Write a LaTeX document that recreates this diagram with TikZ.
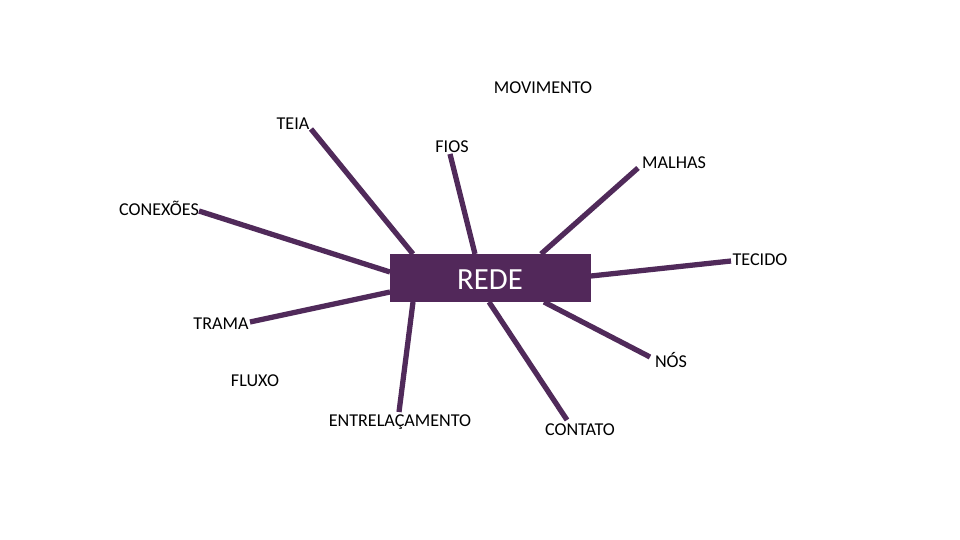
\documentclass[tikz,border=0pt]{standalone}
\usepackage{fontspec}
\setmainfont{Carlito}
\definecolor{rede}{RGB}{82,40,90}
\definecolor{ray}{RGB}{80,42,90}
\begin{document}
\begin{tikzpicture}[x=0.02cm,y=-0.02cm,
  lbl/.style={font=\fontsize{10.3}{12}\selectfont, text=black, inner sep=0pt},
  ray/.style={draw=ray, line width=3pt},
  hub/.style={fill=rede, text=white, minimum width=201*0.02cm, minimum height=48*0.02cm, inner sep=0pt, font=\fontsize{17.5}{20}\selectfont}]
\useasboundingbox[fill=white] (0,0) rectangle (960,540);
% labels
\node[lbl] (movimento) at (543,88) {MOVIMENTO};
\node[lbl] (teia) at (293,124) {TEIA};
\node[lbl] (fios) at (452,147) {FIOS};
\node[lbl] (malhas) at (674,163) {MALHAS};
\node[lbl] (conexoes) at (159,208) {CONEXÕES};
\node[lbl] (tecido) at (760,260) {TECIDO};
\node[lbl] (trama) at (221,324) {TRAMA};
\node[lbl] (nos) at (671,360) {NÓS};
\node[lbl] (fluxo) at (255,381) {FLUXO};
\node[lbl] (entre) at (400,422) {ENTRELAÇAMENTO};
\node[lbl] (contato) at (580,430) {CONTATO};
% free ends at labels
\coordinate (eTeia) at (311,129);
\coordinate (eFios) at (450,154);
\coordinate (eMalhas) at (638,168);
\coordinate (eConex) at (199,211);
\coordinate (eTecido) at (731,261);
\coordinate (eTrama) at (250,322);
\coordinate (eNos) at (650,357);
\coordinate (eEntre) at (399,412);
\coordinate (eContato) at (567,420);
% ends on hub border
\coordinate (hTeia) at (413,254);
\coordinate (hFios) at (475,254);
\coordinate (hMalhas) at (541,254);
\coordinate (hConex) at (390,272);
\coordinate (hTecido) at (591,276);
\coordinate (hTrama) at (390,292);
\coordinate (hNos) at (544,302);
\coordinate (hEntre) at (413,302);
\coordinate (hContato) at (489,302);
% rays
\draw[ray] (eTeia) -- (hTeia);
\draw[ray] (eFios) -- (hFios);
\draw[ray] (eMalhas) -- (hMalhas);
\draw[ray] (eConex) -- (hConex);
\draw[ray] (eTecido) -- (hTecido);
\draw[ray] (eTrama) -- (hTrama);
\draw[ray] (eNos) -- (hNos);
\draw[ray] (eEntre) -- (hEntre);
\draw[ray] (eContato) -- (hContato);
% hub
\node[hub] (redebox) at (490.5,278) {};
\node[text=white, font=\fontsize{17.5}{20}\selectfont, inner sep=0pt] (redetxt) at (490,280) {REDE};
\end{tikzpicture}
\end{document}
